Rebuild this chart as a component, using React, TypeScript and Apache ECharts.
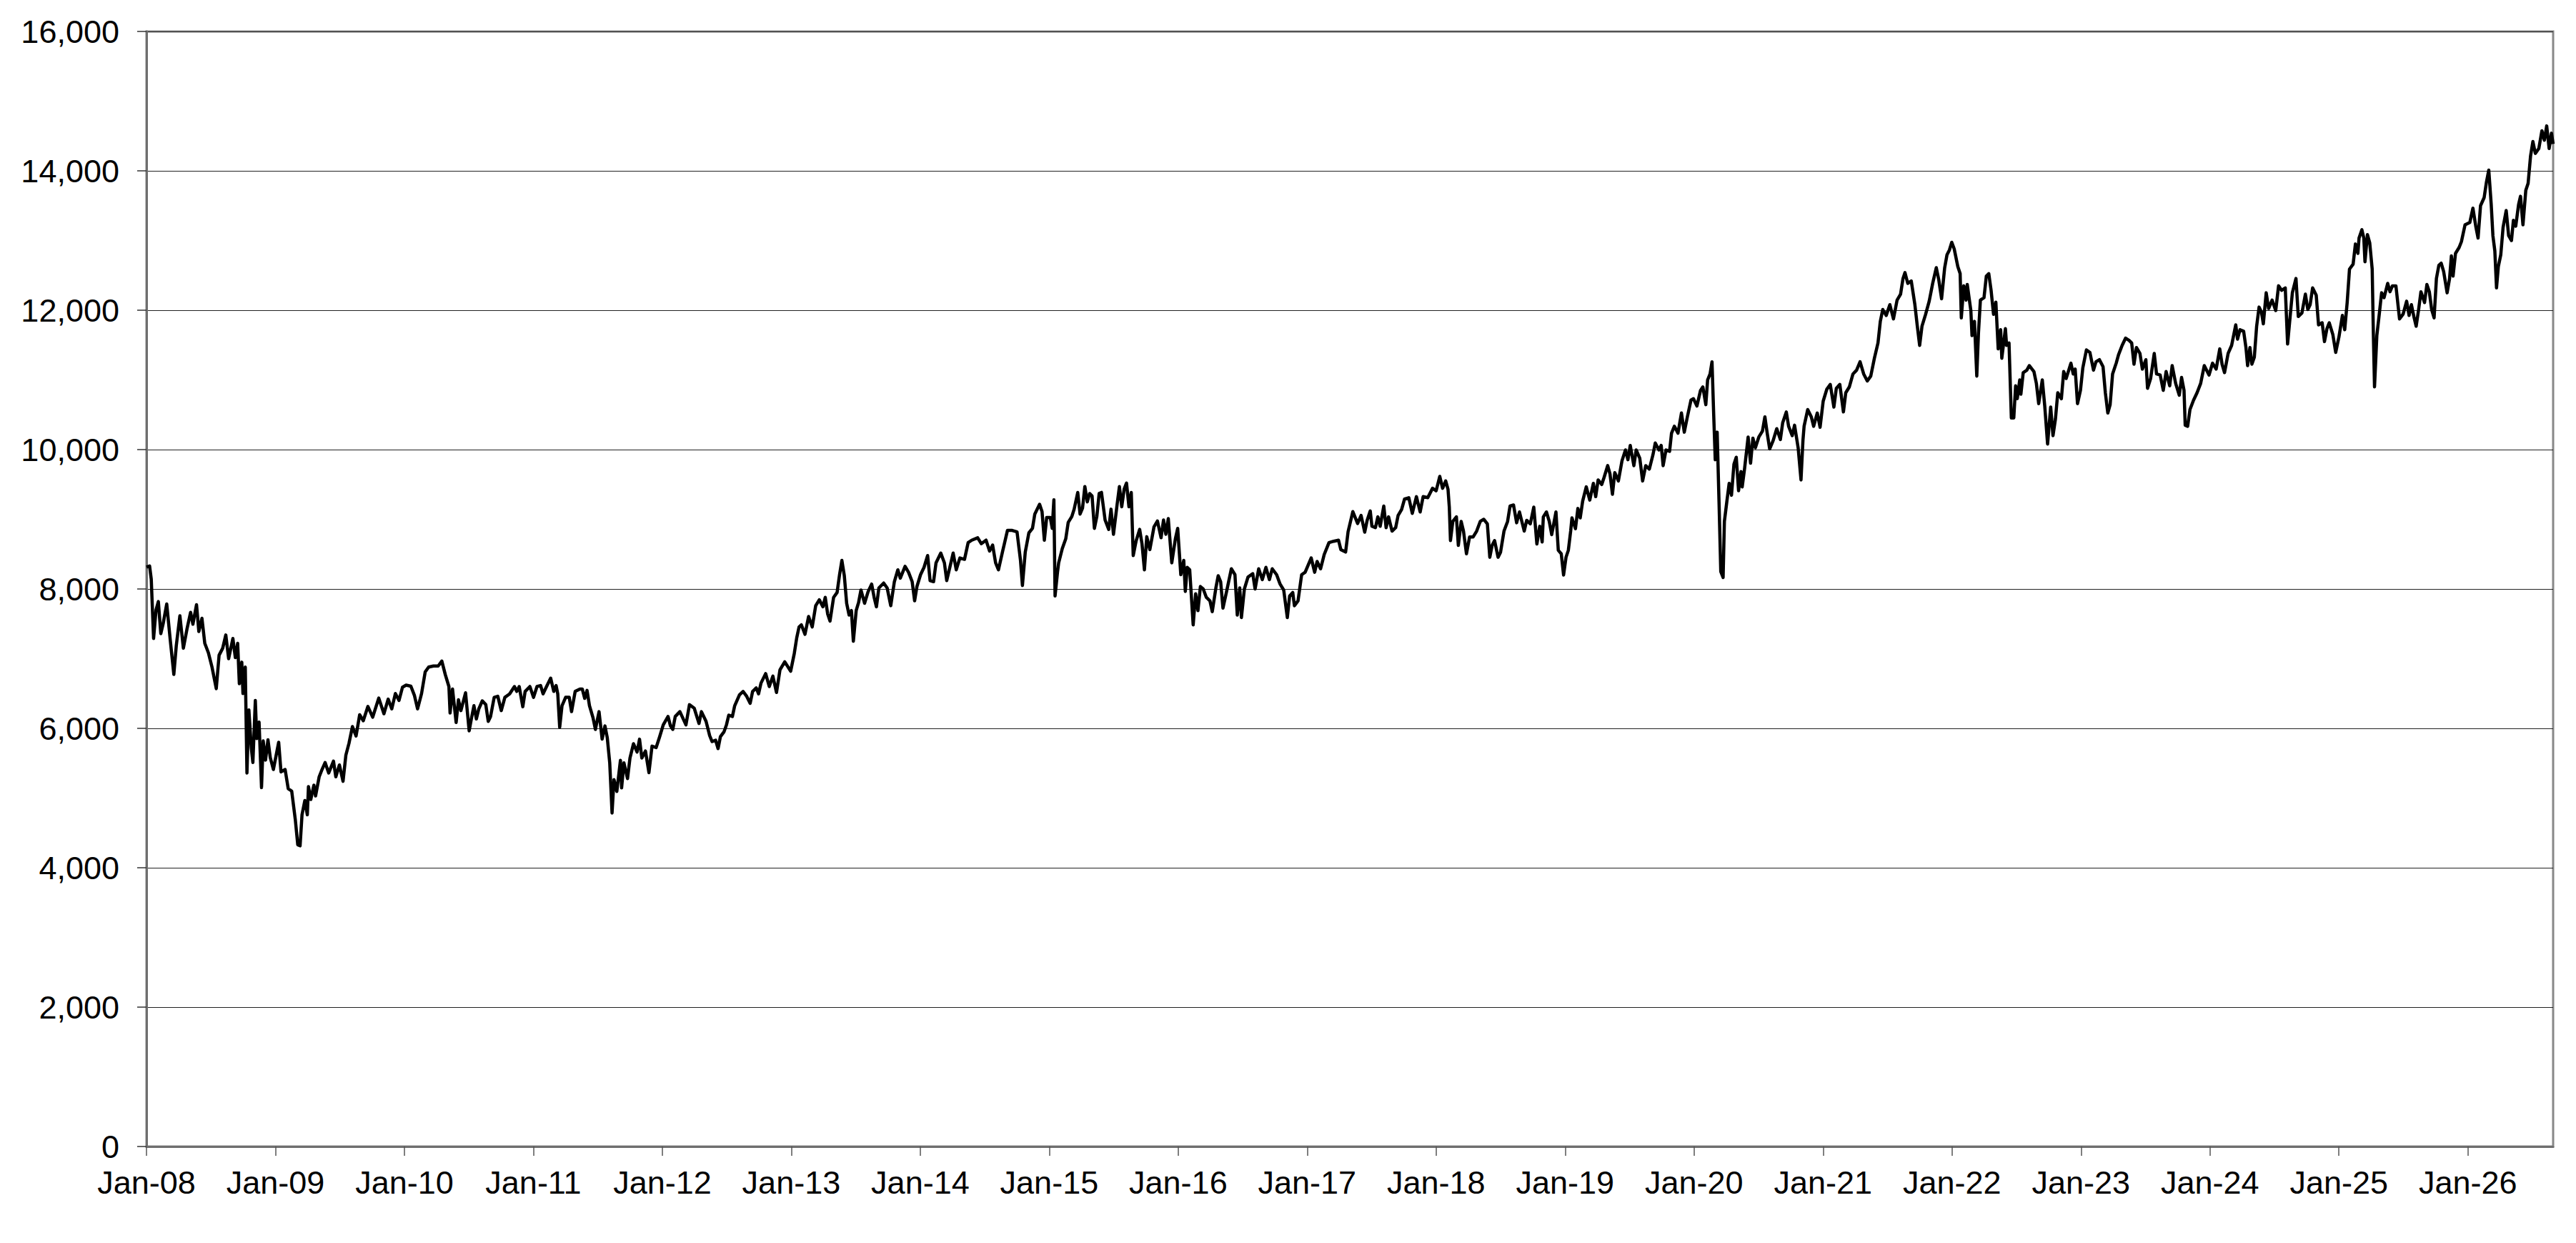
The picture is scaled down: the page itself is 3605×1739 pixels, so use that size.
import React, { useEffect, useRef } from "react";
import * as echarts from "echarts";

// [decimal year, index value] readings, grouped by period
const seg2008: number[][] = [
  [2008.0, 8315], [2008.024, 8330], [2008.037, 8140], [2008.055, 7290], [2008.074, 7700], [2008.092, 7820],
  [2008.111, 7360], [2008.129, 7500], [2008.157, 7785], [2008.185, 7255], [2008.212, 6775], [2008.231, 7185],
  [2008.259, 7615], [2008.286, 7150], [2008.314, 7425], [2008.342, 7665], [2008.36, 7495], [2008.388, 7775],
  [2008.406, 7390], [2008.43, 7580], [2008.452, 7220], [2008.48, 7085], [2008.508, 6880], [2008.541, 6570],
  [2008.563, 7050], [2008.591, 7150], [2008.615, 7340], [2008.637, 7000], [2008.67, 7290], [2008.689, 7015],
  [2008.707, 7220], [2008.72, 6640], [2008.739, 6950], [2008.748, 6500], [2008.766, 6880], [2008.779, 5360],
  [2008.794, 6265], [2008.813, 5715], [2008.825, 5510], [2008.844, 6400], [2008.855, 5855], [2008.873, 6090],
  [2008.892, 5150], [2008.905, 5820], [2008.923, 5545], [2008.942, 5835], [2008.96, 5580], [2008.984, 5410],
];
const seg2009: number[][] = [
  [2009.025, 5800], [2009.043, 5375], [2009.075, 5410], [2009.099, 5135], [2009.126, 5100], [2009.154, 4690],
  [2009.173, 4330], [2009.191, 4315], [2009.206, 4760], [2009.228, 4965], [2009.247, 4760], [2009.256, 5165],
  [2009.274, 4980], [2009.298, 5185], [2009.311, 5030], [2009.339, 5305], [2009.357, 5390], [2009.385, 5510],
  [2009.413, 5360], [2009.45, 5530], [2009.468, 5305], [2009.496, 5475], [2009.524, 5240], [2009.546, 5615],
  [2009.57, 5785], [2009.597, 6025], [2009.625, 5890], [2009.653, 6195], [2009.681, 6110], [2009.717, 6315],
  [2009.754, 6160], [2009.801, 6435], [2009.841, 6210], [2009.874, 6420], [2009.902, 6280], [2009.93, 6500],
  [2009.958, 6400], [2009.985, 6590],
];
const seg2010: number[][] = [
  [2010.013, 6620], [2010.05, 6605], [2010.078, 6470], [2010.102, 6280], [2010.133, 6500], [2010.161, 6810],
  [2010.188, 6880], [2010.225, 6895], [2010.262, 6895], [2010.29, 6965], [2010.317, 6770], [2010.345, 6600],
  [2010.354, 6220], [2010.373, 6565], [2010.401, 6085], [2010.419, 6410], [2010.438, 6255], [2010.474, 6510],
  [2010.502, 5965], [2010.521, 6155], [2010.539, 6325], [2010.558, 6135], [2010.576, 6275], [2010.604, 6395],
  [2010.631, 6340], [2010.65, 6100], [2010.668, 6170], [2010.696, 6445], [2010.724, 6460], [2010.751, 6255],
  [2010.779, 6445], [2010.816, 6495], [2010.853, 6600], [2010.871, 6530], [2010.89, 6600], [2010.918, 6310],
  [2010.936, 6530], [2010.973, 6600],
];
const seg2011: number[][] = [
  [2011.001, 6445], [2011.028, 6600], [2011.056, 6615], [2011.075, 6495], [2011.102, 6600], [2011.134, 6720],
  [2011.158, 6530], [2011.176, 6615], [2011.189, 6495], [2011.204, 6015], [2011.222, 6325], [2011.25, 6445],
  [2011.278, 6445], [2011.296, 6240], [2011.324, 6530], [2011.361, 6565], [2011.379, 6565], [2011.398, 6430],
  [2011.416, 6545], [2011.435, 6325], [2011.462, 6155], [2011.481, 5985], [2011.509, 6240], [2011.533, 5845],
  [2011.555, 6035], [2011.573, 5865], [2011.592, 5505], [2011.61, 4785], [2011.625, 5265], [2011.647, 5095],
  [2011.675, 5540], [2011.684, 5145], [2011.702, 5505], [2011.73, 5280], [2011.749, 5575], [2011.776, 5780],
  [2011.804, 5660], [2011.823, 5845], [2011.841, 5575], [2011.869, 5675], [2011.896, 5365], [2011.92, 5745],
  [2011.952, 5725], [2011.979, 5880],
];
const seg2012: number[][] = [
  [2012.007, 6050], [2012.044, 6170], [2012.063, 6035], [2012.081, 5985], [2012.1, 6170], [2012.136, 6240],
  [2012.183, 6050], [2012.21, 6340], [2012.247, 6290], [2012.284, 6070], [2012.303, 6240], [2012.339, 6100],
  [2012.367, 5895], [2012.386, 5810], [2012.413, 5830], [2012.432, 5710], [2012.45, 5880], [2012.478, 5950],
  [2012.497, 6050], [2012.515, 6190], [2012.543, 6170], [2012.561, 6325], [2012.598, 6480], [2012.626, 6530],
  [2012.654, 6460], [2012.681, 6360], [2012.7, 6530], [2012.728, 6580], [2012.746, 6495], [2012.765, 6650],
  [2012.801, 6785], [2012.829, 6600], [2012.857, 6750], [2012.885, 6515], [2012.912, 6840], [2012.949, 6955],
  [2012.995, 6820],
];
const seg2013: number[][] = [
  [2013.023, 7075], [2013.042, 7300], [2013.06, 7455], [2013.078, 7485], [2013.106, 7350], [2013.134, 7605],
  [2013.162, 7455], [2013.189, 7760], [2013.217, 7845], [2013.245, 7745], [2013.263, 7880], [2013.282, 7640],
  [2013.3, 7540], [2013.328, 7880], [2013.355, 7950], [2013.374, 8205], [2013.392, 8410], [2013.411, 8190],
  [2013.429, 7795], [2013.448, 7625], [2013.466, 7690], [2013.481, 7250], [2013.503, 7690], [2013.522, 7810],
  [2013.54, 7985], [2013.568, 7795], [2013.596, 7965], [2013.623, 8070], [2013.642, 7880], [2013.66, 7745],
  [2013.679, 8015], [2013.716, 8085], [2013.743, 8015], [2013.771, 7760], [2013.799, 8105], [2013.826, 8275],
  [2013.845, 8155], [2013.882, 8325], [2013.909, 8240], [2013.937, 8105], [2013.956, 7830], [2013.974, 8035],
];
const seg2014: number[][] = [
  [2014.002, 8205], [2014.029, 8310], [2014.057, 8480], [2014.076, 8120], [2014.103, 8105], [2014.122, 8375],
  [2014.159, 8515], [2014.187, 8375], [2014.205, 8120], [2014.233, 8340], [2014.255, 8515], [2014.279, 8275],
  [2014.307, 8445], [2014.343, 8425], [2014.371, 8665], [2014.399, 8700], [2014.445, 8735], [2014.473, 8650],
  [2014.51, 8700], [2014.537, 8545], [2014.561, 8630], [2014.584, 8375], [2014.606, 8275], [2014.639, 8545],
  [2014.676, 8840], [2014.713, 8840], [2014.75, 8820], [2014.777, 8410], [2014.792, 8050], [2014.814, 8530],
  [2014.842, 8805], [2014.87, 8870], [2014.888, 9075], [2014.925, 9215], [2014.944, 9110], [2014.962, 8700],
  [2014.98, 9025],
];
const seg2015: number[][] = [
  [2015.008, 9025], [2015.023, 8870], [2015.036, 9280], [2015.045, 7900], [2015.064, 8240], [2015.073, 8375],
  [2015.101, 8580], [2015.128, 8720], [2015.147, 8955], [2015.175, 9040], [2015.193, 9145], [2015.221, 9385],
  [2015.239, 9075], [2015.258, 9160], [2015.276, 9470], [2015.295, 9250], [2015.313, 9370], [2015.332, 9335],
  [2015.35, 8870], [2015.369, 9040], [2015.387, 9370], [2015.405, 9385], [2015.433, 8990], [2015.461, 8855],
  [2015.479, 9145], [2015.498, 8785], [2015.525, 9195], [2015.544, 9470], [2015.562, 9180], [2015.581, 9435],
  [2015.599, 9520], [2015.618, 9180], [2015.636, 9385], [2015.651, 8480], [2015.673, 8685], [2015.701, 8855],
  [2015.719, 8650], [2015.738, 8275], [2015.756, 8750], [2015.78, 8565], [2015.812, 8890], [2015.839, 8975],
  [2015.867, 8735], [2015.886, 8990], [2015.904, 8785], [2015.923, 9010], [2015.95, 8375], [2015.978, 8720],
  [2015.996, 8870],
];
const seg2016: number[][] = [
  [2016.02, 8205], [2016.043, 8410], [2016.055, 7965], [2016.07, 8310], [2016.089, 8275], [2016.116, 7485],
  [2016.135, 7930], [2016.153, 7690], [2016.172, 8035], [2016.194, 8000], [2016.218, 7880], [2016.246, 7830],
  [2016.264, 7675], [2016.292, 8015], [2016.31, 8190], [2016.329, 8105], [2016.347, 7725], [2016.375, 7965],
  [2016.412, 8290], [2016.44, 8205], [2016.458, 7625], [2016.477, 8015], [2016.49, 7590], [2016.513, 8000],
  [2016.541, 8170], [2016.578, 8220], [2016.596, 8000], [2016.624, 8290], [2016.652, 8135], [2016.68, 8310],
  [2016.707, 8135], [2016.729, 8290], [2016.763, 8205], [2016.79, 8070], [2016.818, 7985], [2016.846, 7590],
  [2016.864, 7900], [2016.888, 7950], [2016.901, 7760], [2016.929, 7830], [2016.957, 8205], [2016.984, 8240],
];
const seg2017: number[][] = [
  [2017.031, 8445], [2017.058, 8240], [2017.077, 8395], [2017.104, 8290], [2017.132, 8495], [2017.169, 8665],
  [2017.206, 8685], [2017.243, 8700], [2017.261, 8565], [2017.298, 8530], [2017.317, 8820], [2017.354, 9110],
  [2017.391, 8940], [2017.418, 9055], [2017.446, 8815], [2017.465, 8985], [2017.489, 9120], [2017.502, 8900],
  [2017.529, 8880], [2017.548, 9035], [2017.566, 8900], [2017.594, 9190], [2017.612, 8880], [2017.631, 9035],
  [2017.658, 8830], [2017.686, 8880], [2017.705, 9055], [2017.732, 9140], [2017.755, 9290], [2017.788, 9310],
  [2017.815, 9085], [2017.847, 9325], [2017.876, 9105], [2017.899, 9325], [2017.935, 9310], [2017.972, 9445],
];
const seg2018: number[][] = [
  [2018.0, 9410], [2018.028, 9615], [2018.05, 9445], [2018.074, 9550], [2018.092, 9430], [2018.102, 9175],
  [2018.111, 8695], [2018.129, 8970], [2018.157, 9035], [2018.172, 8625], [2018.194, 8970], [2018.212, 8830],
  [2018.235, 8505], [2018.259, 8745], [2018.286, 8745], [2018.314, 8830], [2018.342, 8970], [2018.369, 9000],
  [2018.397, 8935], [2018.416, 8455], [2018.434, 8625], [2018.453, 8695], [2018.48, 8455], [2018.499, 8525],
  [2018.526, 8830], [2018.554, 8970], [2018.573, 9190], [2018.6, 9205], [2018.624, 8950], [2018.646, 9105],
  [2018.683, 8830], [2018.702, 8985], [2018.73, 8935], [2018.757, 9175], [2018.781, 8645], [2018.803, 8900],
  [2018.822, 8675], [2018.831, 9035], [2018.855, 9105], [2018.877, 8970], [2018.896, 8780], [2018.929, 9105],
  [2018.947, 8555], [2018.97, 8505], [2018.988, 8200],
];
const seg2019: number[][] = [
  [2019.007, 8455], [2019.025, 8555], [2019.043, 8830], [2019.053, 9020], [2019.08, 8865], [2019.099, 9155],
  [2019.117, 9020], [2019.136, 9260], [2019.164, 9465], [2019.191, 9275], [2019.219, 9515], [2019.237, 9325],
  [2019.256, 9565], [2019.284, 9500], [2019.302, 9600], [2019.33, 9770], [2019.348, 9650], [2019.367, 9360],
  [2019.385, 9670], [2019.413, 9550], [2019.441, 9840], [2019.468, 9995], [2019.487, 9855], [2019.505, 10060],
  [2019.533, 9770], [2019.551, 9995], [2019.579, 9875], [2019.601, 9550], [2019.625, 9770], [2019.653, 9720],
  [2019.681, 9925], [2019.699, 10095], [2019.727, 9995], [2019.745, 10060], [2019.76, 9770], [2019.782, 9995],
  [2019.81, 9975], [2019.825, 10235], [2019.847, 10335], [2019.875, 10235], [2019.902, 10525], [2019.924, 10250],
  [2019.948, 10470], [2019.976, 10710], [2019.995, 10730],
];
const seg2020: number[][] = [
  [2020.022, 10625], [2020.05, 10850], [2020.068, 10900], [2020.091, 10645], [2020.105, 11000], [2020.124, 11085],
  [2020.139, 11260], [2020.152, 10505], [2020.164, 9855], [2020.179, 10250], [2020.194, 9205], [2020.207, 8250],
  [2020.225, 8165], [2020.235, 8970], [2020.253, 9240], [2020.272, 9515], [2020.29, 9345], [2020.309, 9790],
  [2020.327, 9890], [2020.345, 9410], [2020.364, 9685], [2020.373, 9465], [2020.392, 9735], [2020.419, 10180],
  [2020.438, 9805], [2020.456, 10165], [2020.475, 10025], [2020.502, 10180], [2020.53, 10265], [2020.549, 10470],
  [2020.567, 10235], [2020.586, 10010], [2020.613, 10130], [2020.641, 10300], [2020.669, 10145], [2020.687, 10385],
  [2020.715, 10540], [2020.733, 10335], [2020.761, 10200], [2020.779, 10350], [2020.807, 10025], [2020.829, 9565],
  [2020.844, 10130], [2020.853, 10335], [2020.881, 10575], [2020.909, 10470], [2020.927, 10335], [2020.955, 10525],
  [2020.977, 10320],
];
const seg2021: number[][] = [
  [2021.001, 10695], [2021.029, 10865], [2021.056, 10935], [2021.084, 10610], [2021.103, 10880], [2021.13, 10935],
  [2021.158, 10540], [2021.176, 10815], [2021.204, 10900], [2021.232, 11085], [2021.26, 11140], [2021.287, 11260],
  [2021.315, 11085], [2021.343, 10985], [2021.37, 11055], [2021.398, 11310], [2021.426, 11530], [2021.444, 11840],
  [2021.463, 12010], [2021.49, 11925], [2021.518, 12080], [2021.546, 11875], [2021.574, 12145], [2021.601, 12230],
  [2021.62, 12455], [2021.635, 12540], [2021.657, 12385], [2021.684, 12420], [2021.712, 12080], [2021.731, 11770],
  [2021.749, 11495], [2021.767, 11770], [2021.795, 11940], [2021.823, 12130], [2021.85, 12385], [2021.878, 12610],
  [2021.897, 12440], [2021.919, 12165], [2021.943, 12610], [2021.961, 12795], [2021.98, 12865], [2021.998, 12975],
];
const seg2022: number[][] = [
  [2022.017, 12880], [2022.045, 12625], [2022.063, 12525], [2022.072, 11890], [2022.091, 12350], [2022.109, 12145],
  [2022.118, 12370], [2022.146, 11995], [2022.155, 11635], [2022.174, 11840], [2022.192, 11055], [2022.205, 11670],
  [2022.22, 12145], [2022.248, 12180], [2022.266, 12490], [2022.285, 12525], [2022.303, 12285], [2022.322, 11940],
  [2022.34, 12115], [2022.358, 11445], [2022.377, 11720], [2022.386, 11310], [2022.414, 11735], [2022.423, 11495],
  [2022.442, 11530], [2022.46, 10455], [2022.479, 10455], [2022.493, 10915], [2022.506, 10730], [2022.525, 11000],
  [2022.534, 10795], [2022.552, 11105], [2022.58, 11140], [2022.599, 11205], [2022.635, 11120], [2022.654, 10950],
  [2022.672, 10660], [2022.7, 11000], [2022.719, 10625], [2022.741, 10080], [2022.765, 10610], [2022.783, 10200],
  [2022.802, 10440], [2022.82, 10815], [2022.848, 10730], [2022.866, 11120], [2022.885, 11020], [2022.922, 11240],
  [2022.94, 11085], [2022.955, 11155], [2022.973, 10660], [2022.996, 10850],
];
const seg2023: number[][] = [
  [2023.014, 11170], [2023.042, 11430], [2023.069, 11395], [2023.097, 11140], [2023.116, 11260], [2023.143, 11290],
  [2023.171, 11190], [2023.189, 10815], [2023.208, 10525], [2023.226, 10645], [2023.245, 11085], [2023.273, 11240],
  [2023.291, 11360], [2023.319, 11495], [2023.346, 11600], [2023.374, 11565], [2023.393, 11530], [2023.411, 11225],
  [2023.43, 11465], [2023.457, 11380], [2023.476, 11155], [2023.503, 11290], [2023.516, 10880], [2023.54, 11020],
  [2023.568, 11380], [2023.586, 11085], [2023.614, 11070], [2023.638, 10850], [2023.66, 11120], [2023.688, 10915],
  [2023.707, 11205], [2023.734, 10950], [2023.762, 10780], [2023.78, 11035], [2023.799, 10850], [2023.808, 10350],
  [2023.827, 10335], [2023.845, 10575], [2023.873, 10710], [2023.9, 10815], [2023.928, 10950], [2023.956, 11205],
  [2023.993, 11070],
];
const seg2024: number[][] = [
  [2024.02, 11240], [2024.048, 11155], [2024.076, 11445], [2024.094, 11225], [2024.113, 11105], [2024.141, 11380],
  [2024.168, 11495], [2024.2, 11790], [2024.214, 11585], [2024.233, 11720], [2024.261, 11700], [2024.279, 11465],
  [2024.292, 11205], [2024.31, 11465], [2024.325, 11225], [2024.344, 11325], [2024.362, 11770], [2024.381, 12045],
  [2024.399, 11975], [2024.414, 11805], [2024.436, 12250], [2024.455, 12025], [2024.482, 12145], [2024.51, 11995],
  [2024.532, 12350], [2024.556, 12285], [2024.584, 12320], [2024.602, 11515], [2024.62, 11875], [2024.639, 12250],
  [2024.667, 12455], [2024.685, 11910], [2024.713, 11960], [2024.74, 12230], [2024.759, 12010], [2024.777, 12080],
  [2024.796, 12320], [2024.824, 12215], [2024.842, 11790], [2024.87, 11820], [2024.888, 11550], [2024.907, 11735],
  [2024.925, 11820], [2024.953, 11650], [2024.975, 11395],
];
const seg2025: number[][] = [
  [2025.0, 11615], [2025.027, 11925], [2025.045, 11720], [2025.064, 12110], [2025.082, 12590], [2025.11, 12660],
  [2025.128, 12950], [2025.147, 12815], [2025.156, 13035], [2025.178, 13155], [2025.193, 13035], [2025.202, 12695],
  [2025.221, 13085], [2025.239, 12965], [2025.258, 12590], [2025.267, 11670], [2025.276, 10900], [2025.294, 11635],
  [2025.313, 11945], [2025.331, 12250], [2025.35, 12180], [2025.378, 12385], [2025.396, 12265], [2025.415, 12350],
  [2025.442, 12350], [2025.47, 11875], [2025.498, 11945], [2025.525, 12130], [2025.544, 11925], [2025.562, 12080],
  [2025.581, 11910], [2025.599, 11770], [2025.618, 12010], [2025.636, 12265], [2025.664, 12110], [2025.682, 12370],
  [2025.701, 12265], [2025.719, 12010], [2025.738, 11890], [2025.756, 12455], [2025.775, 12645], [2025.793, 12675],
  [2025.812, 12555], [2025.839, 12250], [2025.858, 12455], [2025.872, 12780], [2025.885, 12490], [2025.904, 12815],
  [2025.932, 12900], [2025.95, 12985], [2025.978, 13225],
];
const seg2026: number[][] = [
  [2026.015, 13260], [2026.039, 13465], [2026.061, 13205], [2026.079, 13035], [2026.098, 13500], [2026.126, 13615],
  [2026.144, 13840], [2026.162, 14010], [2026.181, 13515], [2026.194, 13070], [2026.209, 12850], [2026.222, 12320],
  [2026.236, 12625], [2026.255, 12795], [2026.273, 13190], [2026.297, 13430], [2026.316, 13070], [2026.338, 13000],
  [2026.353, 13290], [2026.371, 13205], [2026.393, 13515], [2026.408, 13635], [2026.427, 13225], [2026.449, 13720],
  [2026.467, 13820], [2026.486, 14215], [2026.504, 14420], [2026.523, 14250], [2026.55, 14320], [2026.574, 14575],
  [2026.593, 14440], [2026.611, 14645], [2026.63, 14320], [2026.648, 14540], [2026.661, 14385],
];

const yearTicks: number[] = [
  2008, 2009, 2010, 2011, 2012, 2013, 2014, 2015, 2016, 2017,
  2018, 2019, 2020, 2021, 2022, 2023, 2024, 2025, 2026,
];
const yMin = 0;
const yMax = 16000;
const yStep = 2000;

const series = [
  ...seg2008, ...seg2009, ...seg2010, ...seg2011, ...seg2012, ...seg2013, ...seg2014,
  ...seg2015, ...seg2016, ...seg2017, ...seg2018, ...seg2019, ...seg2020, ...seg2021,
  ...seg2022, ...seg2023, ...seg2024, ...seg2025, ...seg2026,
];

const FONT = "'Liberation Sans', Arial, sans-serif";

export default function App() {
  const ref = useRef<HTMLDivElement>(null);
  useEffect(() => {
    if (!ref.current) return;
    const chart = echarts.init(ref.current, null, { renderer: "svg" });
    const lastX = series[series.length - 1][0];
    chart.setOption({
      animation: false,
      backgroundColor: "#ffffff",
      grid: {
        left: 205,
        right: 32,
        top: 44,
        bottom: 135,
        show: true,
        borderColor: "#888888",
        borderWidth: 3,
        containLabel: false,
      },
      xAxis: {
        type: "value",
        min: 2008,
        max: lastX,
        axisLine: { show: true, onZero: false, lineStyle: { color: "#6e6e6e", width: 3 } },
        axisTick: {
          show: true,
          inside: false,
          length: 13,
          customValues: yearTicks,
          lineStyle: { color: "#555555", width: 1.5 },
        },
        axisLabel: {
          show: true,
          customValues: yearTicks,
          margin: 28,
          fontSize: 45,
          fontFamily: FONT,
          color: "#000000",
          formatter: (v: number) => "Jan-" + String(Math.round(v)).slice(2),
        },
        splitLine: { show: false },
      },
      yAxis: {
        type: "value",
        min: yMin,
        max: yMax,
        interval: yStep,
        axisLine: { show: true, lineStyle: { color: "#6e6e6e", width: 3 } },
        axisTick: { show: true, inside: false, length: 13, lineStyle: { color: "#333333", width: 1.5 } },
        axisLabel: {
          margin: 38,
          fontSize: 45,
          fontFamily: FONT,
          color: "#000000",
          formatter: (v: number) => v.toLocaleString("en-US"),
        },
        splitLine: { show: true, lineStyle: { color: "#222222", width: 1 } },
      },
      series: [
        {
          type: "line",
          data: series,
          showSymbol: false,
          symbol: "none",
          smooth: false,
          lineStyle: { color: "#000000", width: 4.5, join: "round" },
          z: 5,
        },
      ],
    });
    return () => chart.dispose();
  }, []);
  return (
    <div
      ref={ref}
      style={{ position: "fixed", left: 0, top: 0, width: 3605, height: 1739, background: "#fff" }}
    />
  );
}
